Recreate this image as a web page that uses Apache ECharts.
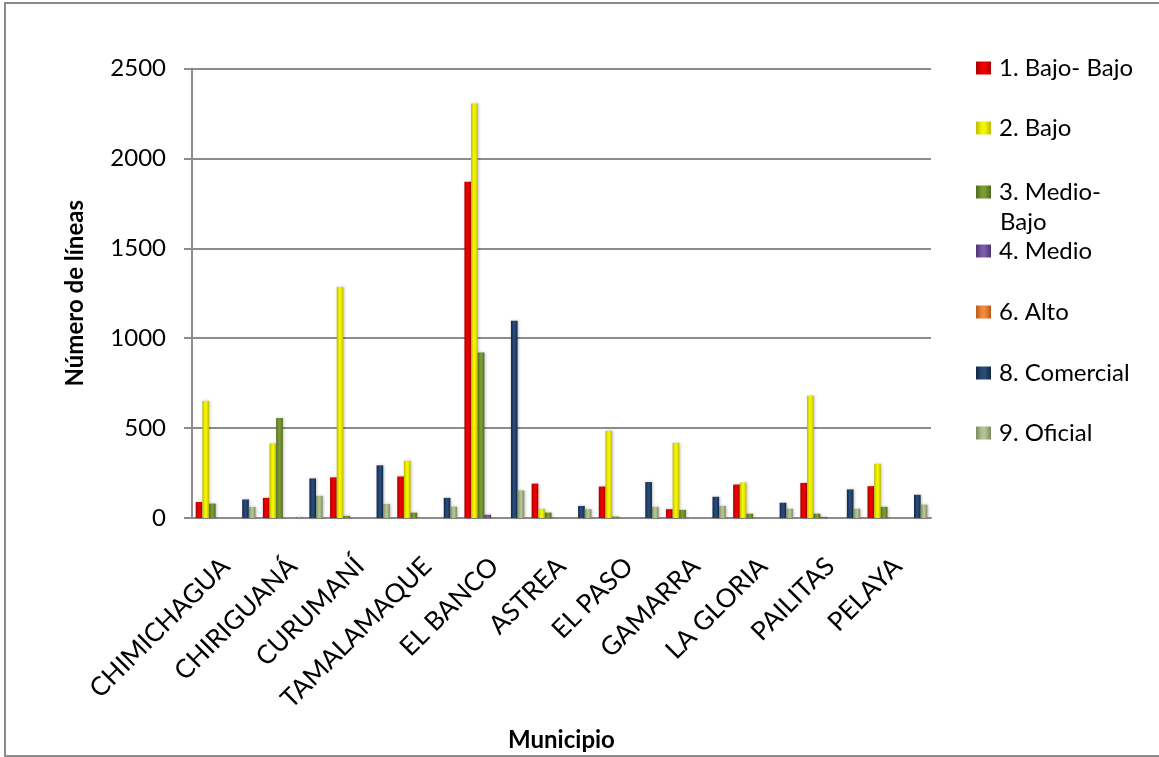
<!DOCTYPE html>
<html>
<head>
<meta charset="utf-8">
<script src="https://cdn.jsdelivr.net/npm/echarts@6/dist/echarts.min.js"></script>
<style>
  html, body { margin: 0; padding: 0; background: #fff; }
  #chart { width: 1159px; height: 757px; }
</style>
</head>
<body>
<div id="chart"></div>
<script>
// Municipalities on the x axis
const municipios = ['CHIMICHAGUA', 'CHIRIGUANÁ', 'CURUMANÍ', 'TAMALAMAQUE', 'EL BANCO',
  'ASTREA', 'EL PASO', 'GAMARRA', 'LA GLORIA', 'PAILITAS', 'PELAYA'];

// Number of lines per stratum
const bajoBajo  = [89, 112, 226, 231, 1870, 191, 175, 49, 186, 195, 177];
const bajo      = [651, 414, 1285, 318, 2305, 50, 485, 418, 197, 680, 301];
const medioBajo = [80, 556, 12, 30, 920, 30, 8, 45, 24, 24, 62];
const medio     = [0, 0, 0, 0, 18, 0, 0, 0, 0, 6, 0];
const alto      = [0, 6, 0, 0, 0, 0, 0, 0, 0, 0, 0];
const comercial = [103, 220, 293, 112, 1097, 67, 200, 118, 85, 159, 129];
const oficial   = [61, 123, 78, 63, 153, 49, 62, 67, 51, 51, 74];

const yTicks = [0, 500, 1000, 1500, 2000, 2500];

const FONT = 'Lato, "Liberation Sans", sans-serif';
const FS = 24;

// Bars get a shaded gradient: darker edges, lighter centre
function shaded(edge, mid) {
  return {
    type: 'linear', x: 0, y: 0, x2: 1, y2: 0,
    colorStops: [
      { offset: 0, color: edge },
      { offset: 0.4, color: mid },
      { offset: 0.6, color: mid },
      { offset: 1, color: edge }
    ]
  };
}

const seriesDefs = [
  { name: '1. Bajo- Bajo', data: bajoBajo, edge: '#a80000', mid: '#ee0000', legendY: 68 },
  { name: '2. Bajo', data: bajo, edge: '#bcbc00', mid: '#f4f400', legendY: 128 },
  { name: '3. Medio-Bajo', data: medioBajo, edge: '#4e6a1c', mid: '#7a9a34', legendY: 192, label: '3. Medio-' },
  { name: '4. Medio', data: medio, edge: '#4a3570', mid: '#7a5ca8', legendY: 251 },
  { name: '5', data: [], edge: '#888', mid: '#aaa' },
  { name: '6. Alto', data: alto, edge: '#b85a14', mid: '#f08a3a', legendY: 312 },
  { name: '7', data: [], edge: '#888', mid: '#aaa' },
  { name: '8. Comercial', data: comercial, edge: '#112644', mid: '#284a78', legendY: 373 },
  { name: '9. Oficial', data: oficial, edge: '#7a8c5a', mid: '#b2c294', legendY: 433 }
];

const series = seriesDefs.map(d => ({
  name: d.name,
  type: 'bar',
  data: d.data,
  barGap: '0%',
  barCategoryGap: '11%',
  itemStyle: {
    color: shaded(d.edge, d.mid),
    shadowColor: 'rgba(0,0,0,0.25)',
    shadowBlur: 3,
    shadowOffsetX: 1
  },
  emphasis: { disabled: true }
}));

const legends = seriesDefs.filter(d => d.legendY).map(d => ({
  data: [{ name: d.name, itemStyle: { color: shaded(d.edge, d.mid) } }],
  left: 976,
  top: d.legendY - 15,
  padding: 0,
  orient: 'vertical',
  icon: 'rect',
  itemWidth: 15,
  itemHeight: 13,
  selectedMode: false,
  formatter: d.label ? () => d.label : undefined,
  textStyle: { fontFamily: FONT, fontSize: FS, color: '#000', lineHeight: 30, padding: [0, 0, 0, 3] }
}));

const chart = echarts.init(document.getElementById('chart'), null, { renderer: 'canvas' });
chart.setOption({
  animation: false,
  backgroundColor: '#fff',
  textStyle: { fontFamily: FONT },
  legend: legends,
  grid: { left: 192, right: 228, top: 68.5, bottom: 232.5, containLabel: false },
  xAxis: {
    type: 'category',
    data: municipios,
    name: 'Municipio',
    nameLocation: 'middle',
    nameGap: 210,
    nameTextStyle: { fontFamily: FONT, fontSize: FS, fontWeight: 'bold', color: '#000' },
    axisLine: { lineStyle: { color: '#8c8c8c', width: 2 } },
    axisTick: { show: false },
    axisLabel: { rotate: 45, margin: 44, interval: 0, fontFamily: FONT, fontSize: 26, color: '#000' }
  },
  yAxis: {
    type: 'value',
    min: yTicks[0],
    max: yTicks[yTicks.length - 1],
    interval: yTicks[1] - yTicks[0],
    name: 'Número de líneas',
    nameLocation: 'middle',
    nameRotate: 90,
    nameGap: 105,
    nameTextStyle: { fontFamily: FONT, fontSize: FS, fontWeight: 'bold', color: '#000' },
    axisLine: { show: true, lineStyle: { color: '#8c8c8c', width: 2 } },
    axisTick: { show: true, length: 8, lineStyle: { color: '#8c8c8c', width: 2 } },
    axisLabel: { margin: 26, fontFamily: FONT, fontSize: FS, color: '#000', formatter: v => String(v) },
    splitLine: { lineStyle: { color: '#8c8c8c', width: 2 } }
  },
  series: series,
  graphic: [
    {
      type: 'rect',
      shape: { x: 5, y: 3, width: 1170, height: 753 },
      style: { fill: null, stroke: '#8c8c8c', lineWidth: 2 },
      silent: true
    },
    {
      type: 'text',
      left: 1000,
      top: 210,
      style: { text: 'Bajo', fontFamily: FONT, fontSize: FS, fill: '#000' },
      silent: true
    }
  ]
});
</script>
</body>
</html>
